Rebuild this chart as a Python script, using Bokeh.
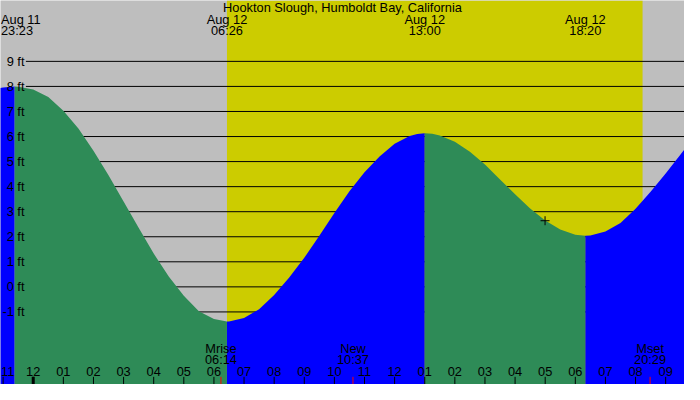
from bokeh.plotting import figure
from bokeh.models import Range1d, BoxAnnotation
from bokeh.core.properties import value
from bokeh.embed import file_html
from bokeh.resources import INLINE

# times are hours after midnight, Aug 12 (negative = Aug 11)
curve_t = [-1.1, -1.0, -0.617, -0.5, 0.0, 0.5, 1.0, 1.5, 2.0, 2.5, 3.0, 3.5, 4.0, 4.5,
           5.0, 5.5, 6.0, 6.433, 6.5, 7.0, 7.5, 8.0, 8.5, 9.0, 9.5, 10.0, 10.5, 11.0,
           11.5, 12.0, 12.5, 12.75, 13.0, 13.25, 13.5, 14.0, 14.5, 15.0, 15.5, 16.0,
           16.5, 17.0, 17.5, 18.0, 18.333, 18.5, 19.0, 19.5, 20.0, 20.5, 21.0, 21.5, 21.65]
curve_ft = [7.94, 7.96, 8.00, 7.99, 7.88, 7.58, 7.03, 6.32, 5.43, 4.45, 3.41, 2.36, 1.33, 0.41,
            -0.35, -0.97, -1.28, -1.38, -1.38, -1.24, -0.89, -0.32, 0.37, 1.16, 2.04, 2.95, 3.82, 4.57,
            5.20, 5.71, 6.02, 6.10, 6.13, 6.11, 6.04, 5.79, 5.39, 4.88, 4.29, 3.70,
            3.13, 2.65, 2.29, 2.08, 2.04, 2.05, 2.21, 2.55, 3.12, 3.80, 4.52, 5.29, 5.53]

tide_t = [-0.617, 6.433, 13.0, 18.333]
tide_day = ["Aug 11", "Aug 12", "Aug 12", "Aug 12"]
tide_clock = ["23:23", "06:26", "13:00", "18:20"]

sunrise, sunset = 6.433, 20.233

moon_t = [6.233, 10.617, 20.483]
moon_event = ["Mrise", "New", "Mset"]
moon_clock = ["06:14", "10:37", "20:29"]

now_t, now_ft = 16.995, 2.64

hours = list(range(-1, 22))
hour_labels = ["11", "12", "01", "02", "03", "04", "05", "06", "07", "08", "09", "10", "11",
               "12", "01", "02", "03", "04", "05", "06", "07", "08", "09"]
ft_levels = [-1, 0, 1, 2, 3, 4, 5, 6, 7, 8, 9]

GREY, DAY, RISE, FALL = "#BEBEBE", "#CCCC00", "#0000FF", "#2E8B57"
FONT = value("Liberation Sans")
FS = "12.8px"

# chart is laid out on a 700x400 pixel grid: 30.82 px per hour, 26.1 px per foot
def xpix(px):
    return (px - 33.5) / 30.82

def ypix(py):
    return (298.3 - py) / 26.1

p = figure(width=684, height=384, output_backend="svg", toolbar_location=None,
           x_range=Range1d(xpix(0), xpix(700)), y_range=Range1d(ypix(400), ypix(0)),
           min_border=0)
p.axis.visible = False
p.grid.visible = False
p.outline_line_color = None
p.background_fill_color = GREY
p.border_fill_color = GREY

p.add_layout(BoxAnnotation(left=sunrise, right=sunset, fill_color=DAY, fill_alpha=1,
                           line_color=None, level="underlay"))

# foot lines, drawn under the water
p.segment(x0=[xpix(26)] * len(ft_levels), y0=ft_levels, x1=[xpix(701)] * len(ft_levels),
          y1=ft_levels, line_color="black", line_width=1)

bounds = [0] + [curve_t.index(t) for t in tide_t] + [len(curve_t) - 1]
for a, b in zip(bounds[:-1], bounds[1:]):
    xs = curve_t[a:b + 1]
    ys = curve_ft[a:b + 1]
    col = RISE if ys[-1] > ys[0] else FALL
    p.varea(x=xs, y1=ypix(410), y2=ys, fill_color=col)

p.scatter([now_t], [now_ft], marker="cross", size=9, line_color="black", line_width=1)

p.text(x=[xpix(24.5)] * len(ft_levels), y=ft_levels, text=[f"{v} ft" for v in ft_levels],
       text_font=FONT, text_font_size=FS, text_align="right", text_baseline="middle")

p.text(x=[(xpix(0) + xpix(700)) / 2], y=[ypix(7.5)],
       text=["Hookton Slough, Humboldt Bay, California"],
       text_font=FONT, text_font_size=FS, text_align="center", text_baseline="middle")
# first high tide sits on the left edge: keep its label inside the chart
p.text(x=[xpix(0.5)] * 2, y=[ypix(20), ypix(31.5)], text=[tide_day[0], tide_clock[0]],
       text_font=FONT, text_font_size=FS, text_align="left", text_baseline="middle")
p.text(x=tide_t[1:], y=[ypix(20)] * 3, text=tide_day[1:], text_font=FONT, text_font_size=FS,
       text_align="center", text_baseline="middle")
p.text(x=tide_t[1:], y=[ypix(31.5)] * 3, text=tide_clock[1:], text_font=FONT,
       text_font_size=FS, text_align="center", text_baseline="middle")

p.text(x=moon_t, y=[ypix(362)] * 3, text=moon_event, text_font=FONT, text_font_size=FS,
       text_align="center", text_baseline="middle")
p.text(x=moon_t, y=[ypix(374)] * 3, text=moon_clock, text_font=FONT, text_font_size=FS,
       text_align="center", text_baseline="middle")
# same for the first hour label
p.text(x=[xpix(0.5)], y=[ypix(386)], text=hour_labels[:1], text_font=FONT,
       text_font_size=FS, text_align="left", text_baseline="middle")
p.text(x=hours[1:], y=[ypix(386)] * (len(hours) - 1), text=hour_labels[1:], text_font=FONT,
       text_font_size=FS, text_align="center", text_baseline="middle")

p.segment(x0=hours, y0=[ypix(392)] * len(hours), x1=hours, y1=[ypix(401)] * len(hours),
          line_color="black", line_width=1)
p.segment(x0=[0], y0=[ypix(392)], x1=[0], y1=[ypix(401)], line_color="black", line_width=3)
p.segment(x0=moon_t, y0=[ypix(392)] * 3, x1=moon_t, y1=[ypix(401)] * 3,
          line_color="red", line_width=1)

open("out.html", "w").write(file_html(p, INLINE))
